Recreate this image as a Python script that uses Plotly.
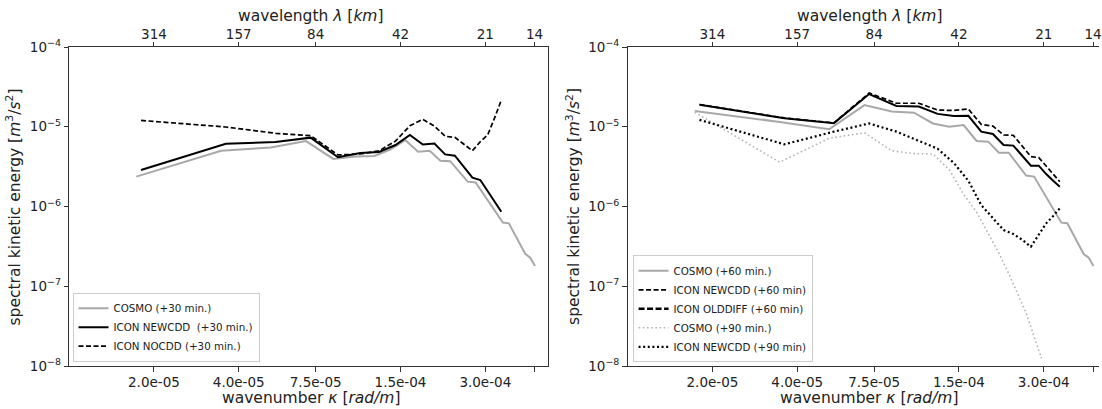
import math
import plotly.graph_objects as go

FONT = "DejaVu Sans"

# ---------------- data ----------------
# wavenumbers (rad/m) of the spectral bins
k_cosmo = [1.732e-5, 3.464e-5, 5.196e-5, 6.928e-5, 8.660e-5, 1.0392e-4, 1.2124e-4,
           1.3856e-4, 1.5588e-4, 1.732e-4, 1.9052e-4, 2.0784e-4, 2.2516e-4, 2.4248e-4,
           2.598e-4, 2.7712e-4, 2.9444e-4, 3.1176e-4, 3.2908e-4, 3.464e-4, 3.6372e-4,
           3.8104e-4, 3.9836e-4, 4.1568e-4, 4.33e-4, 4.5032e-4]
k_icon = [1.8e-5, 3.6e-5, 5.4e-5, 7.2e-5, 9.0e-5, 1.08e-4, 1.26e-4, 1.44e-4, 1.62e-4,
          1.8e-4, 1.98e-4, 2.16e-4, 2.34e-4, 2.52e-4, 2.7e-4, 2.88e-4, 3.06e-4, 3.24e-4,
          3.42e-4]

# left panel (+30 min)
cosmo_30 = [2.37e-6, 5.0e-6, 5.5e-6, 6.6e-6, 3.95e-6, 4.25e-6, 4.3e-6, 5.2e-6, 6.8e-6,
            4.85e-6, 5.0e-6, 3.75e-6, 3.7e-6, 2.72e-6, 2.05e-6, 2.0e-6, 1.47e-6, 1.09e-6,
            8.2e-7, 6.3e-7, 6.15e-7, 4.5e-7, 3.35e-7, 2.55e-7, 2.28e-7, 1.79e-7]
icon_newcdd_30 = [2.87e-6, 6.13e-6, 6.44e-6, 7.3e-6, 4.14e-6, 4.7e-6, 4.83e-6, 5.9e-6,
                  7.88e-6, 6.0e-6, 6.15e-6, 4.5e-6, 4.34e-6, 3.12e-6, 2.3e-6, 2.15e-6,
                  1.55e-6, 1.15e-6, 8.6e-7]
icon_nocdd_30 = [1.2e-5, 9.93e-6, 8.28e-6, 7.73e-6, 4.43e-6, 4.55e-6, 5.0e-6, 6.6e-6,
                 1.03e-5, 1.24e-5, 1.02e-5, 7.6e-6, 7.36e-6, 6.0e-6, 5.0e-6, 6.5e-6,
                 7.9e-6, 1.3e-5, 2.16e-5]

# right panel (+60 / +90 min)
cosmo_60 = [1.58e-5, 1.15e-5, 9.3e-6, 1.87e-5, 1.55e-5, 1.5e-5, 1.1e-5, 1.0e-5, 1.05e-5,
            6.63e-6, 6.5e-6, 4.73e-6, 4.73e-6, 3.4e-6, 2.44e-6, 2.37e-6, 1.66e-6, 1.18e-6,
            8.5e-7, 6.27e-7, 6.18e-7, 4.54e-7, 3.36e-7, 2.54e-7, 2.28e-7, 1.79e-7]
icon_newcdd_60 = [1.9e-5, 1.29e-5, 1.12e-5, 2.65e-5, 1.97e-5, 1.97e-5, 1.62e-5, 1.6e-5,
                  1.67e-5, 1.07e-5, 1.02e-5, 7.88e-6, 7.8e-6, 5.65e-6, 4.22e-6, 4.1e-6,
                  3.22e-6, 2.55e-6, 2.05e-6]
icon_olddiff_60 = [1.89e-5, 1.28e-5, 1.11e-5, 2.57e-5, 1.82e-5, 1.79e-5, 1.45e-5, 1.36e-5,
                   1.37e-5, 8.68e-6, 8.11e-6, 5.9e-6, 5.8e-6, 4.28e-6, 3.25e-6, 3.25e-6,
                   2.55e-6, 2.1e-6, 1.77e-6]
cosmo_90 = [1.52e-5, 3.6e-6, 7.16e-6, 8.4e-6, 5.0e-6, 4.6e-6, 4.55e-6, 2.9e-6, 1.42e-6,
            8.5e-7, 4.6e-7, 2.6e-7, 1.45e-7, 8.2e-8, 4.6e-8, 2.35e-8, 1.25e-8]
icon_newcdd_90 = [1.22e-5, 6.02e-6, 8.68e-6, 1.1e-5, 8.68e-6, 6.63e-6, 5.3e-6, 3.5e-6,
                  2.1e-6, 1.04e-6, 7.1e-7, 5.07e-7, 4.52e-7, 3.8e-7, 3.13e-7, 4.39e-7,
                  6.15e-7, 7.6e-7, 9.48e-7]

# tick labels
k_tickvals = [2.0e-5, 4.0e-5, 7.5e-5, 1.5e-4, 3.0e-4, 4.488e-4]
k_ticktext = ["2.0e-05", "4.0e-05", "7.5e-05", "1.5e-04", "3.0e-04", ""]
wl_ticktext = ["314", "157", "84", "42", "21", "14"]
y_tickvals = [1e-8, 1e-7, 1e-6, 1e-5, 1e-4]
y_ticktext = ["10<sup>\u22128</sup>", "10<sup>\u22127</sup>", "10<sup>\u22126</sup>",
              "10<sup>\u22125</sup>", "10<sup>\u22124</sup>"]

# ---------------- geometry ----------------
W, H = 1102, 409
TOP, BOT = 47, 366
L1, R1 = 69.3, 549.3
L2 = 629.3
PXDEC = (R1 - L1) / (math.log10(5e-4) + 5)
x2_end = -5 + (W - L2) / PXDEC

BLACK = "#000000"
GRAY = "#a8a8a8"
LGRAY = "#b4b4b4"
AX = "#333333"


def py(p):
    return (BOT - p) / (BOT - TOP)


fig = go.Figure()

# left panel
fig.add_trace(go.Scatter(x=k_cosmo, y=cosmo_30, mode="lines", name="COSMO (+30 min.)",
                         line=dict(color=GRAY, width=2), xaxis="x", yaxis="y", legend="legend"))
fig.add_trace(go.Scatter(x=k_icon, y=icon_newcdd_30, mode="lines",
                         name="ICON NEWCDD \u00a0(+30 min.)",
                         line=dict(color=BLACK, width=2), xaxis="x", yaxis="y", legend="legend"))
fig.add_trace(go.Scatter(x=k_icon, y=icon_nocdd_30, mode="lines", name="ICON NOCDD (+30 min.)",
                         line=dict(color=BLACK, width=1.7, dash="5px,2.5px"),
                         xaxis="x", yaxis="y", legend="legend"))

# right panel
fig.add_trace(go.Scatter(x=k_cosmo, y=cosmo_60, mode="lines", name="COSMO (+60 min.)",
                         line=dict(color=GRAY, width=2), xaxis="x2", yaxis="y2", legend="legend2"))
fig.add_trace(go.Scatter(x=k_icon, y=icon_newcdd_60, mode="lines", name="ICON NEWCDD (+60 min)",
                         line=dict(color=BLACK, width=1.7, dash="5px,2.5px"),
                         xaxis="x2", yaxis="y2", legend="legend2"))
fig.add_trace(go.Scatter(x=k_icon, y=icon_olddiff_60, mode="lines", name="ICON OLDDIFF (+60 min)",
                         line=dict(color=BLACK, width=2), showlegend=False,
                         xaxis="x2", yaxis="y2"))
# legend entry (drawn as in reference legend)
fig.add_trace(go.Scatter(x=[None], y=[None], mode="lines", name="ICON OLDDIFF (+60 min)",
                         line=dict(color=BLACK, width=2.6, dash="6px,2.5px"),
                         xaxis="x2", yaxis="y2", legend="legend2"))
fig.add_trace(go.Scatter(x=k_cosmo[:len(cosmo_90)], y=cosmo_90, mode="lines",
                         name="COSMO (+90 min.)",
                         line=dict(color=LGRAY, width=1.6, dash="1.6px,2.6px"),
                         xaxis="x2", yaxis="y2", legend="legend2"))
fig.add_trace(go.Scatter(x=k_icon, y=icon_newcdd_90, mode="lines", name="ICON NEWCDD (+90 min)",
                         line=dict(color=BLACK, width=2.2, dash="2px,2.6px"),
                         xaxis="x2", yaxis="y2", legend="legend2"))

# dummy traces so the top (wavelength) axes are attached
fig.add_trace(go.Scatter(x=[None], y=[None], xaxis="x3", yaxis="y", showlegend=False, hoverinfo="skip"))
fig.add_trace(go.Scatter(x=[None], y=[None], xaxis="x4", yaxis="y2", showlegend=False, hoverinfo="skip"))

tickfont = dict(family=FONT, size=13.5, color="#222222")
common_x = dict(type="log", ticks="outside", ticklen=4.5, tickwidth=1, tickcolor=AX,
                showline=True, linecolor=AX, linewidth=1, showgrid=False, zeroline=False,
                tickfont=tickfont, tickvals=k_tickvals, ticklabeloverflow="allow")
common_y = dict(type="log", range=[-8, -4], ticks="outside", ticklen=4.5, tickwidth=1,
                tickcolor=AX, showline=True, linecolor=AX, linewidth=1, showgrid=False,
                zeroline=False, tickfont=tickfont, tickvals=y_tickvals, ticktext=y_ticktext,
                domain=[0, 1])

fig.update_layout(
    width=W, height=H,
    margin=dict(l=0, r=0, t=TOP, b=H - BOT, pad=0),
    paper_bgcolor="white", plot_bgcolor="white",
    font=dict(family=FONT, color="#222222"),
    xaxis=dict(common_x, domain=[L1 / W, R1 / W], range=[-5, math.log10(5e-4)],
               anchor="y", ticktext=k_ticktext, ticklabelstandoff=-1),
    xaxis3=dict(common_x, overlaying="x", side="top", anchor="y",
                range=[-5, math.log10(5e-4)], ticktext=wl_ticktext, ticklabelstandoff=-3),
    yaxis=dict(common_y, anchor="x", mirror=True),
    xaxis2=dict(common_x, domain=[L2 / W, 1.0], range=[-5, x2_end], anchor="y2",
                ticktext=k_ticktext, ticklabelstandoff=-1),
    xaxis4=dict(common_x, overlaying="x2", side="top", anchor="y2",
                range=[-5, x2_end], ticktext=wl_ticktext, ticklabelstandoff=-3),
    yaxis2=dict(common_y, anchor="x2", mirror=False),
    legend=dict(x=72.7 / W, y=py(361.7), xanchor="left", yanchor="bottom",
                bgcolor="rgba(255,255,255,0.85)", bordercolor="#cccccc", borderwidth=1,
                font=dict(family=FONT, size=10.3, color="#222222"), tracegroupgap=0),
    legend2=dict(x=634.3 / W, y=py(362.3), xanchor="left", yanchor="bottom",
                 bgcolor="rgba(255,255,255,0.85)", bordercolor="#cccccc", borderwidth=1,
                 font=dict(family=FONT, size=10.3, color="#222222"), tracegroupgap=0),
    showlegend=True,
)

title_font = dict(family=FONT, size=15.5, color="#222222")
xlab = "wavenumber <i>\u03ba</i> [<i>rad/m</i>]"
tlab = "wavelength <i>\u03bb</i> [<i>km</i>]"
ylab = "spectral kinetic energy [<i>m</i><sup>3</sup>/<i>s</i><sup>2</sup>]"
anns = []
for cx in (312.0, 872.0):
    anns.append(dict(text=xlab, x=cx / W, y=py(398), xref="paper", yref="paper",
                     showarrow=False, xanchor="center", yanchor="middle", font=title_font))
    anns.append(dict(text=tlab, x=cx / W, y=py(15.5), xref="paper", yref="paper",
                     showarrow=False, xanchor="center", yanchor="middle", font=title_font))
for cx in (14.0, 575.0):
    anns.append(dict(text=ylab, x=cx / W, y=0.5, xref="paper", yref="paper", textangle=-90,
                     showarrow=False, xanchor="center", yanchor="middle", font=title_font))
fig.update_layout(annotations=anns)

fig.write_html("out.html")
